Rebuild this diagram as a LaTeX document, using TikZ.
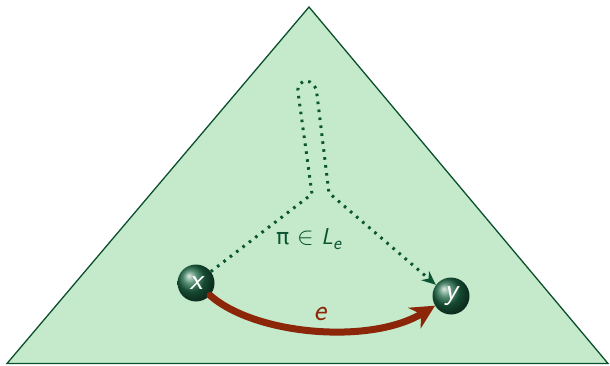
\documentclass[tikz,border=0pt]{standalone}
\usepackage{fontspec}
\newfontfamily\dejavu{DejaVu Sans}
\usetikzlibrary{arrows.meta}
\definecolor{trifill}{RGB}{197,234,203}
\definecolor{tridraw}{RGB}{10,80,45}
\definecolor{dotgreen}{RGB}{12,85,50}
\definecolor{edgered}{RGB}{140,38,8}
\definecolor{ballgreen}{RGB}{30,105,70}
\tikzset{
  vert/.style={circle, minimum size=37pt, inner sep=0pt, shading=ball, ball color=ballgreen,
    text=white, font=\sffamily\itshape\fontsize{30}{30}\selectfont},
  dotpath/.style={draw=dotgreen, line width=3pt, dash pattern=on 2.6pt off 5.4pt,
    -{Stealth[length=14pt,width=12pt]}},
  redge/.style={draw=edgered, line width=7pt, line cap=round,
    -{Stealth[length=24pt,width=24pt]}},
  lab/.style={inner sep=0pt}
}
\begin{document}
\begin{tikzpicture}[x=1pt,y=-1pt]
\useasboundingbox (0,0) rectangle (610,366);
\coordinate (apex) at (309,7);
\coordinate (bl) at (7,363.5);
\coordinate (br) at (608,363.5);
\draw[tridraw, fill=trifill, line width=1.3pt, line join=miter] (apex) -- (bl) -- (br) -- cycle;
\node[vert] (x) at (196,283) {x};
\node[vert] (y) at (451,296) {y};
\coordinate (l1) at (312,194);
\coordinate (l2) at (298,92);
\coordinate (r2) at (317,95);
\coordinate (r1) at (329,193);
\draw[dotpath] (x) -- (l1) -- (l2) .. controls (296,78) and (316,76) .. (r2) -- (r1) -- ([xshift=-2pt,yshift=-2pt]y.north west);
\draw[redge] (x) .. controls (255,335) and (370,345) .. (y);
\node[lab, text=dotgreen, font=\fontsize{23}{23}\selectfont] (pi) at (309,239)
  {{\dejavu\fontsize{22}{22}\selectfont π}\,\,$\in$\,\,\textsf{\textit{L}}\raisebox{-5pt}{\fontsize{19}{19}\selectfont\textsf{\textit{e}}}};
\node[lab, text=edgered, font=\sffamily\itshape\fontsize{30}{30}\selectfont] (e) at (320,314) {e};
\end{tikzpicture}
\end{document}
